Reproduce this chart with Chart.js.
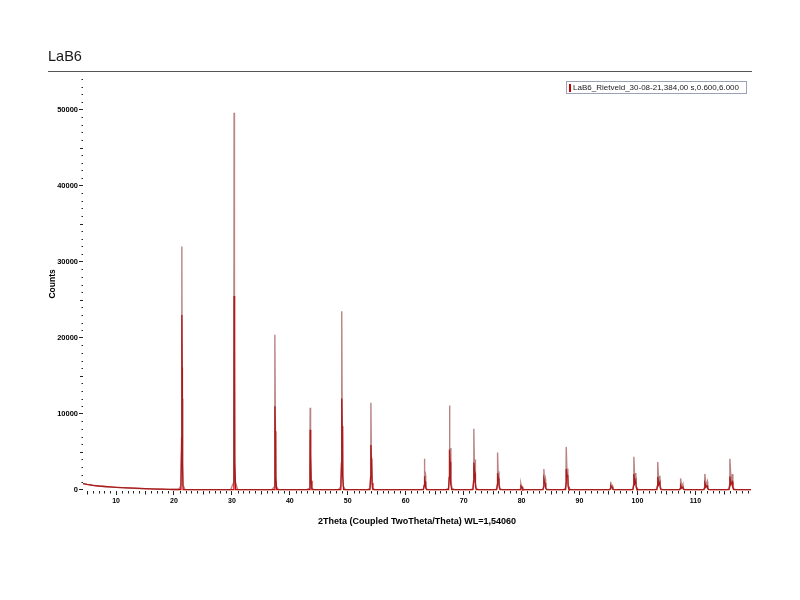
<!DOCTYPE html>
<html><head><meta charset="utf-8">
<script src="https://cdn.jsdelivr.net/npm/chart.js@4.4.1/dist/chart.umd.min.js"></script>
<style>html,body{margin:0;padding:0;background:#fff}</style>
</head><body>
<canvas id="c" width="800" height="600"></canvas>
<script>
const chartTitle = 'LaB6';
const legendLabel = 'LaB6_Rietveld_30-08-21,384,00 s,0.600,6.000';
const xAxisTitle = '2Theta (Coupled TwoTheta/Theta) WL=1,54060';
const yAxisTitle = 'Counts';
const xTickValues = [10, 20, 30, 40, 50, 60, 70, 80, 90, 100, 110];
const yTickValues = [0, 10000, 20000, 30000, 40000, 50000];

// Calculated profile (brown line)
const calcTheta = [
  4.3,5,6,7,8,9,10,11,12,13,14,15,16,17,18,19,20,
  20.8,21.2,21.31,21.36,21.42,21.53,21.9,
  26,
  29.8,30.22,30.33,30.38,30.44,30.56,31.0,
  34,
  36.85,37.28,37.39,37.44,37.51,37.64,38.05,
  42.9,43.35,43.46,43.51,43.58,43.72,44.15,
  48.35,48.8,48.91,48.96,49.04,49.2,49.6,
  53.4,53.83,53.94,53.99,54.07,54.24,54.65,
  58,
  62.6,63.06,63.17,63.22,63.3,63.4,63.46,63.62,64.0,
  66.95,67.39,67.5,67.55,67.64,67.74,67.8,67.97,68.35,
  71.15,71.6,71.71,71.76,71.86,71.97,72.03,72.2,72.6,
  75.25,75.7,75.81,75.86,75.97,76.09,76.15,76.32,76.7,
  79.3,79.74,79.85,79.9,80.02,80.14,80.2,80.37,80.75,
  83.25,83.69,83.8,83.85,83.98,84.11,84.17,84.34,84.75,
  87.1,87.55,87.66,87.71,87.85,87.98,88.04,88.22,88.6,
  91,
  94.8,95.22,95.33,95.38,95.53,95.69,95.75,95.92,96.3,
  98.8,99.22,99.33,99.38,99.55,99.72,99.78,99.97,100.35,
  102.9,103.34,103.45,103.5,103.68,103.87,103.93,104.12,104.5,
  106.85,107.29,107.4,107.45,107.65,107.85,107.91,108.09,108.5,
  111.05,111.47,111.58,111.63,111.85,112.07,112.13,112.32,112.7,
  115.35,115.79,115.9,115.95,116.18,116.41,116.47,116.67,117.05,
  119.6
];
const calcCounts = [
  820,720,600,510,440,380,330,290,250,215,185,155,130,105,85,65,50,
  45,560,4800,32000,12000,700,40,
  35,
  35,850,7400,49600,19000,1100,35,
  30,
  30,350,3060,20400,8000,420,30,
  30,190,1620,10800,4300,230,30,
  30,400,3500,23500,9400,480,30,
  30,200,1700,11450,4600,240,30,
  30,
  30,80,620,4100,1650,2000,500,90,30,
  30,190,1670,11100,3900,5500,1300,230,30,
  30,140,1200,8050,2800,4000,1000,170,30,
  30,90,740,4900,1700,2450,600,110,30,
  30,45,140,800,300,400,130,45,30,
  30,70,420,2750,900,1380,350,80,30,
  30,120,850,5650,1800,2820,700,130,30,
  30,
  30,45,180,1050,330,530,150,45,30,
  30,100,680,4350,1000,2200,550,100,30,
  30,90,580,3650,850,1850,470,90,30,
  30,50,260,1500,380,760,220,50,30,
  30,60,350,2100,520,1070,290,60,30,
  30,95,650,4100,950,2080,540,95,30,
  30
];

// Measured pattern (red)
const obsTheta = [
  4.3,5,6,7,8,9,10,11,12,13,14,15,16,17,18,19,20,
  21.2,21.32,21.36,21.41,21.46,21.58,
  26,
  30.22,30.35,30.38,30.42,30.46,30.52,30.66,
  34,
  37.28,37.41,37.44,37.49,37.54,37.6,37.74,
  43.35,43.48,43.51,43.57,43.62,43.68,43.82,
  48.8,48.93,48.96,49.03,49.09,49.15,49.29,
  53.83,53.96,53.99,54.07,54.14,54.2,54.34,
  58,
  63.06,63.19,63.22,63.31,63.4,63.46,63.6,
  67.39,67.52,67.55,67.65,67.74,67.8,67.94,
  71.6,71.73,71.76,71.87,71.97,72.03,72.17,
  75.7,75.83,75.86,75.98,76.09,76.15,76.29,
  79.74,79.87,79.9,80.02,80.14,80.2,80.34,
  83.69,83.82,83.85,83.98,84.11,84.17,84.31,
  87.55,87.68,87.71,87.85,87.98,88.04,88.18,
  91,
  95.22,95.35,95.38,95.53,95.69,95.75,95.89,
  99.22,99.35,99.38,99.55,99.72,99.78,99.92,
  103.34,103.47,103.5,103.68,103.87,103.93,104.07,
  107.29,107.42,107.45,107.65,107.85,107.91,108.05,
  111.47,111.6,111.63,111.85,112.07,112.13,112.27,
  115.79,115.92,115.95,116.18,116.41,116.47,116.61,
  119.6
];
const obsCounts = [
  820,720,600,510,440,380,330,290,250,215,185,155,130,105,85,65,50,
  45,6900,23000,16100,3500,40,
  35,
  35,7650,25500,17800,15300,3800,35,
  30,
  30,3300,11000,7700,6600,1650,30,
  30,2370,7900,5500,4700,1200,30,
  30,3600,12000,8400,7200,1800,30,
  30,1770,5900,4130,3540,890,30,
  30,
  30,540,1800,1260,1080,270,30,
  30,1590,5300,3710,3180,800,30,
  30,1080,3600,2520,2160,540,30,
  30,660,2200,1540,1320,330,30,
  30,150,500,350,300,75,30,
  30,420,1400,980,840,210,30,
  30,825,2750,1930,1650,410,30,
  30,
  30,165,550,385,330,80,30,
  30,630,2100,900,1260,315,30,
  30,510,1700,700,1020,255,30,
  30,180,600,250,360,90,30,
  30,270,900,380,540,135,30,
  30,525,1750,720,1050,260,30,
  30
];

const FONT = "'Liberation Sans', Arial, sans-serif";

const decor = {
  id: 'decor',
  afterDraw(chart) {
    const ctx = chart.ctx, xs = chart.scales.x, ys = chart.scales.y, ca = chart.chartArea;
    ctx.save();
    // rule under the title
    ctx.strokeStyle = '#555';
    ctx.lineWidth = 1;
    ctx.beginPath();
    ctx.moveTo(48, 71.5); ctx.lineTo(752, 71.5);
    ctx.stroke();
    // minor ticks
    ctx.strokeStyle = '#222';
    ctx.beginPath();
    for (let v = Math.ceil(xs.min); v <= xs.max; v++) {
      if (v % 10 === 0) continue;
      const px = Math.round(xs.getPixelForValue(v)) + 0.5;
      ctx.moveTo(px, ca.bottom);
      ctx.lineTo(px, ca.bottom + (v % 5 === 0 ? 3.5 : 2.5));
    }
    for (let v = 1000; v <= ys.max; v += 1000) {
      if (v % 10000 === 0) continue;
      const py = Math.round(ys.getPixelForValue(v)) + 0.5;
      const len = v % 5000 === 0 ? 3 : 1.5;
      ctx.moveTo(ca.left - len, py); ctx.lineTo(ca.left, py);
    }
    ctx.stroke();
    // legend box
    ctx.font = '8px ' + FONT;
    const tw = ctx.measureText(legendLabel).width;
    const boxRight = Math.round(ca.right) - 5;
    const textX = boxRight - 7 - tw;
    const iconX = Math.round(textX - 4);
    const boxLeft = iconX - 3;
    const boxTop = Math.round(ca.top) + 4;
    const boxH = 12;
    ctx.fillStyle = '#fff';
    ctx.fillRect(boxLeft, boxTop, boxRight - boxLeft, boxH);
    ctx.strokeStyle = '#9aa3b5';
    ctx.strokeRect(boxLeft + 0.5, boxTop + 0.5, boxRight - boxLeft, boxH);
    ctx.fillStyle = '#cc0000';
    ctx.fillRect(iconX, boxTop + 3, 2, 8);
    ctx.fillStyle = '#222';
    ctx.textBaseline = 'middle';
    ctx.textAlign = 'left';
    ctx.fillText(legendLabel, textX, boxTop + 6.5);
    ctx.restore();
  }
};

new Chart(document.getElementById('c'), {
  type: 'line',
  data: {
    datasets: [
      {
        label: legendLabel,
        data: obsTheta.map((t, i) => ({x: t, y: obsCounts[i]})),
        borderColor: '#cc0000',
        backgroundColor: '#cc0000',
        borderWidth: 1.3,
        pointRadius: 0,
        tension: 0,
        order: 1
      },
      {
        label: 'calc',
        data: calcTheta.map((t, i) => ({x: t, y: calcCounts[i]})),
        borderColor: 'rgba(140,50,50,0.6)',
        borderWidth: 1.4,
        pointRadius: 0,
        tension: 0,
        order: 0
      }
    ]
  },
  options: {
    responsive: false,
    animation: false,
    devicePixelRatio: 1,
    layout: { padding: { left: 48, right: 49, top: 0, bottom: 69 } },
    plugins: {
      title: {
        display: true, text: chartTitle, align: 'start', color: '#1a1a1a',
        font: { family: FONT, size: 14.5, weight: 'normal' },
        padding: { top: 48, bottom: 11.5 }
      },
      legend: { display: false },
      tooltip: { enabled: false }
    },
    scales: {
      x: {
        type: 'linear', min: 4.3, max: 119.6,
        afterFit: s => { s.height = 40; },
        afterBuildTicks: s => { s.ticks = xTickValues.map(v => ({value: v})); },
        ticks: { color: '#000', padding: 2, maxRotation: 0, autoSkip: false,
          font: { family: FONT, size: 7, weight: 'bold' } },
        grid: { drawOnChartArea: false, drawTicks: true, tickLength: 4, color: '#222' },
        border: { display: false },
        title: { display: true, text: xAxisTitle, color: '#000', padding: { top: 0, bottom: 4 },
          font: { family: FONT, size: 9, weight: 'bold' } }
      },
      y: {
        type: 'linear', min: -150, max: 54300,
        afterFit: s => { s.width = 35; },
        afterBuildTicks: s => { s.ticks = yTickValues.map(v => ({value: v})); },
        ticks: { color: '#000', padding: 1, autoSkip: false,
          callback: v => String(v),
          font: { family: FONT, size: 7.5, weight: 'bold' } },
        grid: { drawOnChartArea: false, drawTicks: true, tickLength: 4, color: '#222' },
        border: { display: false },
        title: { display: true, text: yAxisTitle, color: '#000', padding: 0,
          font: { family: FONT, size: 8.5, weight: 'bold' } }
      }
    }
  },
  plugins: [decor]
});
</script>
</body></html>
